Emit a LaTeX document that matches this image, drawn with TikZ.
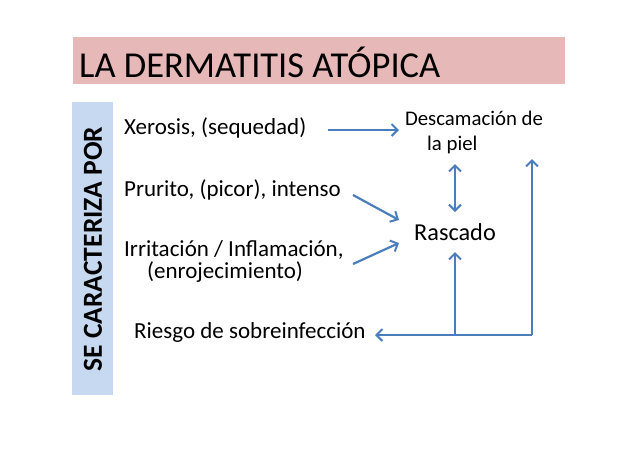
\documentclass[tikz,border=0pt]{standalone}
\usepackage{fontspec}
\setmainfont{Carlito}
\usetikzlibrary{arrows.meta}
\definecolor{titlebg}{HTML}{E6B9B8}
\definecolor{barbg}{HTML}{C6D9F1}
\definecolor{arr}{HTML}{4A7EBB}
\tikzset{
  item/.style={anchor=west,inner sep=0pt,font=\fontsize{23}{25}\selectfont},
  tip/.tip={Straight Barb[length=6pt,width=12pt,line width=2pt]},
  conn/.style={draw=arr,line width=2.2pt,-tip},
}
\begin{document}
\begin{tikzpicture}[x=1pt,y=-1pt]
\useasboundingbox[fill=white] (0,0) rectangle (638,451);
\fill[titlebg] (73,37) rectangle (565,84);
\node[anchor=west,inner sep=0pt,font=\fontsize{36.5}{38}\selectfont] (title) at (79,62) {LA DERMATITIS ATÓPICA};
\fill[barbg] (72,102) rectangle (113,395);
\node[rotate=90,inner sep=0pt,font=\bfseries\fontsize{27.5}{29}\selectfont] (bar) at (93,249) {SE CARACTERIZA POR};
\node[item] (xer) at (124,128) {Xerosis, (sequedad)};
\node[item] (pru) at (124,190) {Prurito, (picor), intenso};
\node[item] (irr) at (124,250) {Irritación / Inflamación,};
\node[item] (enr) at (147,272) {(enrojecimiento)};
\node[item] (rie) at (134,332) {Riesgo de sobreinfección};
\node[inner sep=0pt,font=\fontsize{20.8}{22}\selectfont] (desc) at (474,118) {Descamación de};
\node[anchor=west,inner sep=0pt,font=\fontsize{20.8}{22}\selectfont] (piel) at (427,145) {la piel};
\node[inner sep=0pt,font=\fontsize{24.3}{26}\selectfont] (ras) at (455,232) {Rascado};
\coordinate (a1) at (328,130);
\coordinate (a2) at (399,130);
\draw[conn] (a1) -- (a2);
\coordinate (p1) at (353,195);
\coordinate (p2) at (399,220);
\draw[conn] (p1) -- (p2);
\coordinate (i1) at (353,264);
\coordinate (i2) at (399,243);
\draw[conn] (i1) -- (i2);
\coordinate (d1) at (455,164);
\coordinate (d2) at (455,212);
\draw[conn,tip-tip] (d1) -- (d2);
\coordinate (bm) at (455,335);
\coordinate (bt) at (455,252);
\draw[conn] (bm) -- (bt);
\coordinate (br) at (532,335);
\coordinate (rt) at (532,159);
\draw[conn] (br) -- (rt);
\coordinate (bl) at (375,335);
\draw[conn] (br) -- (bl);
\end{tikzpicture}
\end{document}
